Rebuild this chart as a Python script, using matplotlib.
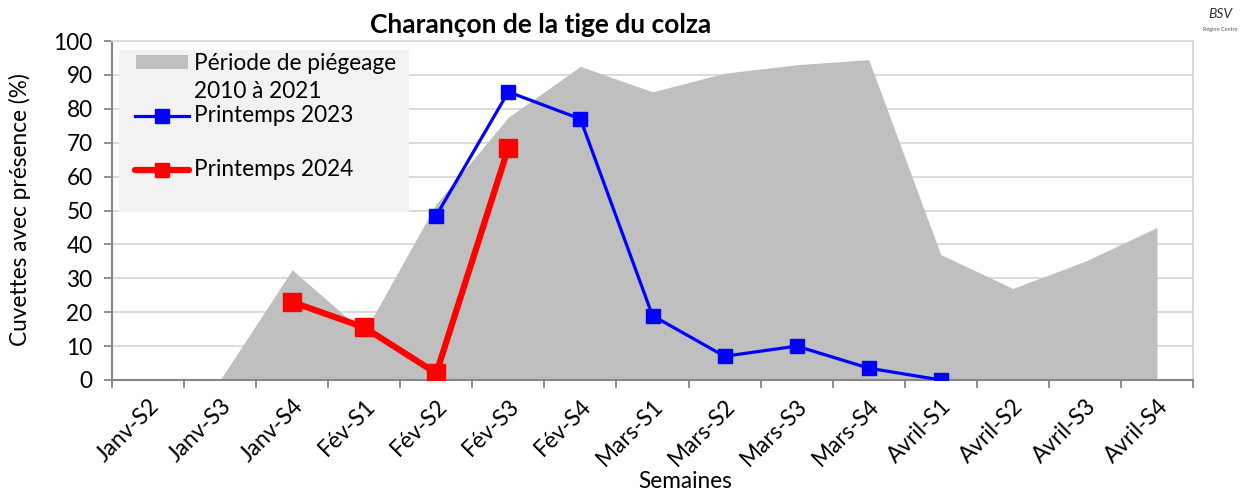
import matplotlib
matplotlib.use("Agg")
import matplotlib.pyplot as plt
from matplotlib.patches import Rectangle
from matplotlib.lines import Line2D
import numpy as np

categories = ["Janv-S2", "Janv-S3", "Janv-S4", "Fév-S1", "Fév-S2", "Fév-S3", "Fév-S4",
              "Mars-S1", "Mars-S2", "Mars-S3", "Mars-S4", "Avril-S1", "Avril-S2",
              "Avril-S3", "Avril-S4"]
periode_2010_2021 = [0, 0, 32.5, 14, 52, 77.5, 92.5, 85, 90.5, 93, 94.5, 37, 27, 35, 45]
printemps_2023 = [None, None, None, None, 48.5, 85, 77, 19, 7, 10, 3.5, 0, None, None, None]
printemps_2024 = [None, None, 23, 15.5, 2, 68.5, None, None, None, None, None, None, None, None, None]
yticks = [0, 10, 20, 30, 40, 50, 60, 70, 80, 90, 100]

FONT = "Lato"
plt.rcParams["font.family"] = [FONT, "DejaVu Sans"]
FS = 16.3

W, H = 1255, 490
fig = plt.figure(figsize=(W / 100, H / 100), dpi=100)

def fx(px):
    return px / W

def fy(py):
    return 1 - py / H

ax = fig.add_axes([fx(112), fy(380), fx(1193) - fx(112), fy(41) - fy(380)])

x = np.arange(len(categories))
ax.fill_between(x, periode_2010_2021, 0, color="#BFBFBF", linewidth=0, zorder=2)

def to_arr(v):
    return np.array([np.nan if a is None else a for a in v], dtype=float)

ax.plot(x, to_arr(printemps_2023), color="#0000FF", lw=2.3, marker="s", markersize=10,
        markerfacecolor="#0000FF", markeredgecolor="#0000FF", zorder=4)
ax.plot(x, to_arr(printemps_2024), color="#FF0000", lw=4.5, marker="s", markersize=13.5,
        markerfacecolor="#FF0000", markeredgecolor="#FF0000", zorder=5,
        solid_capstyle="round")

ax.set_xlim(-0.5, len(categories) - 0.5)
ax.set_ylim(0, 100)
ax.set_yticks(yticks)
ax.set_yticklabels([str(v) for v in yticks], fontsize=FS)
ax.yaxis.grid(True, color="#D9D9D9", lw=1.3, zorder=0)
ax.set_axisbelow(True)

ax.set_xticks(x)
ax.set_xticklabels(categories, rotation=45, ha="right", rotation_mode="anchor", fontsize=FS)
ax.tick_params(axis="x", which="major", length=0, pad=11)
ax.set_xticks(np.arange(-0.5, len(categories)), minor=True)
ax.tick_params(axis="x", which="minor", length=6, color="#868686", width=1.3)
ax.tick_params(axis="y", which="major", length=6, color="#868686", width=1.3, pad=8)

for s in ["left", "bottom"]:
    ax.spines[s].set_color("#868686")
    ax.spines[s].set_linewidth(1.5)
for s in ["top", "right"]:
    ax.spines[s].set_color("#D9D9D9")
    ax.spines[s].set_linewidth(1.3)

# Titles
fig.text(fx(541), fy(25), "Charançon de la tige du colza", ha="center", va="center",
         fontsize=19, fontweight="bold")
fig.text(fx(685), fy(481), "Semaines", ha="center", va="center", fontsize=FS)
fig.text(fx(20), fy(210), "Cuvettes avec présence (%)", ha="center", va="center",
         rotation=90, fontsize=FS)

# Legend (manual, Excel-like)
fig.patches.append(Rectangle((fx(119), fy(212)), fx(409) - fx(119), fy(50) - fy(212),
                             transform=fig.transFigure, facecolor="#F2F2F2",
                             edgecolor="none", zorder=6))
fig.patches.append(Rectangle((fx(136), fy(69)), fx(188) - fx(136), fy(55) - fy(69),
                             transform=fig.transFigure, facecolor="#BFBFBF",
                             edgecolor="none", zorder=7))
fig.text(fx(194), fy(63), "Période de piégeage", ha="left", va="center", fontsize=FS, zorder=8)
fig.text(fx(194), fy(91), "2010 à 2021", ha="left", va="center", fontsize=FS, zorder=8)
fig.lines.append(Line2D([fx(135), fx(189)], [fy(116), fy(116)], transform=fig.transFigure,
                        color="#0000FF", lw=2.3, zorder=7))
fig.lines.append(Line2D([fx(162)], [fy(116)], transform=fig.transFigure, color="#0000FF",
                        marker="s", markersize=10.5, zorder=8))
fig.text(fx(194), fy(116), "Printemps 2023", ha="left", va="center", fontsize=FS, zorder=8)
fig.lines.append(Line2D([fx(135), fx(189)], [fy(170), fy(170)], transform=fig.transFigure,
                        color="#FF0000", lw=4.5, solid_capstyle="round", zorder=7))
fig.lines.append(Line2D([fx(162)], [fy(170)], transform=fig.transFigure, color="#FF0000",
                        marker="s", markersize=10.5, zorder=8))
fig.text(fx(194), fy(170), "Printemps 2024", ha="left", va="center", fontsize=FS, zorder=8)

# Logo-like mark
fig.text(fx(1220), fy(14), "BSV", ha="center", va="center", fontsize=10, style="italic",
         color="#333333")
fig.text(fx(1220), fy(29), "Région Centre", ha="center", va="center", fontsize=4,
         color="#555555")

fig.savefig("out.png", dpi=100)
